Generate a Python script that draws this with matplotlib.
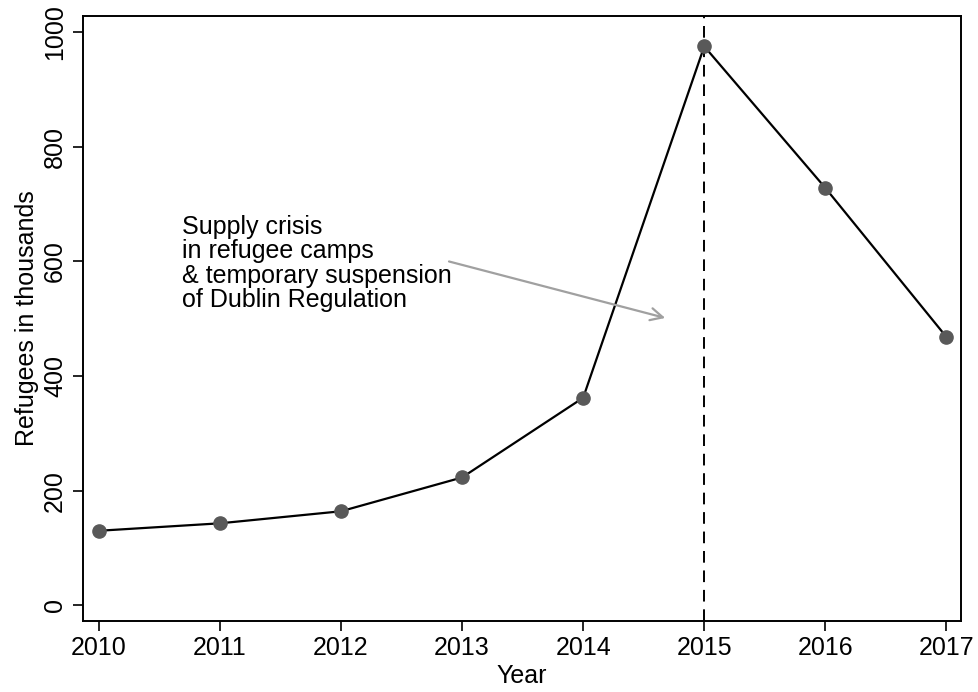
import matplotlib.pyplot as plt

plt.rcParams['font.family'] = ['Liberation Sans', 'DejaVu Sans']

years = [2010, 2011, 2012, 2013, 2014, 2015, 2016, 2017]
refugees = [130, 143, 164, 223, 362, 975, 728, 468]
yticks = [0, 200, 400, 600, 800, 1000]
note = "Supply crisis\nin refugee camps\n& temporary suspension\nof Dublin Regulation"

fig = plt.figure(figsize=(9.79, 6.92), dpi=100)
ax = fig.add_axes([0.0848, 0.1026, 0.8968, 0.8743])

ax.axvline(2015, color='black', linestyle=(0, (6, 4)), linewidth=1.4, zorder=1)
ax.plot(years, refugees, color='black', linewidth=1.6, marker='o',
        markersize=9.5, markerfacecolor='#595959', markeredgecolor='#595959', zorder=3)

ax.annotate('', xy=(2014.7, 500), xytext=(2012.87, 601),
            arrowprops=dict(arrowstyle='->', color='#a0a0a0', lw=1.6,
                            mutation_scale=22))
ax.text(2010.69, 681, note, fontsize=18, va='top', ha='left', linespacing=1.02)

ax.set_xlim(2009.87, 2017.12)
ax.set_ylim(-27.4, 1028)
ax.set_xticks(years)
ax.set_yticks(yticks)
ax.set_yticklabels([str(v) for v in yticks], rotation=90, va='center')
ax.tick_params(axis='both', labelsize=18, length=7.5, width=1.2, direction='out')
ax.tick_params(axis='x', pad=3)
ax.tick_params(axis='y', pad=4)
for s in ax.spines.values():
    s.set_linewidth(1.4)

ax.set_xlabel('Year', fontsize=18, labelpad=3)
ax.set_ylabel('Refugees in thousands', fontsize=18, labelpad=3)

fig.savefig('out.png', dpi=100)
